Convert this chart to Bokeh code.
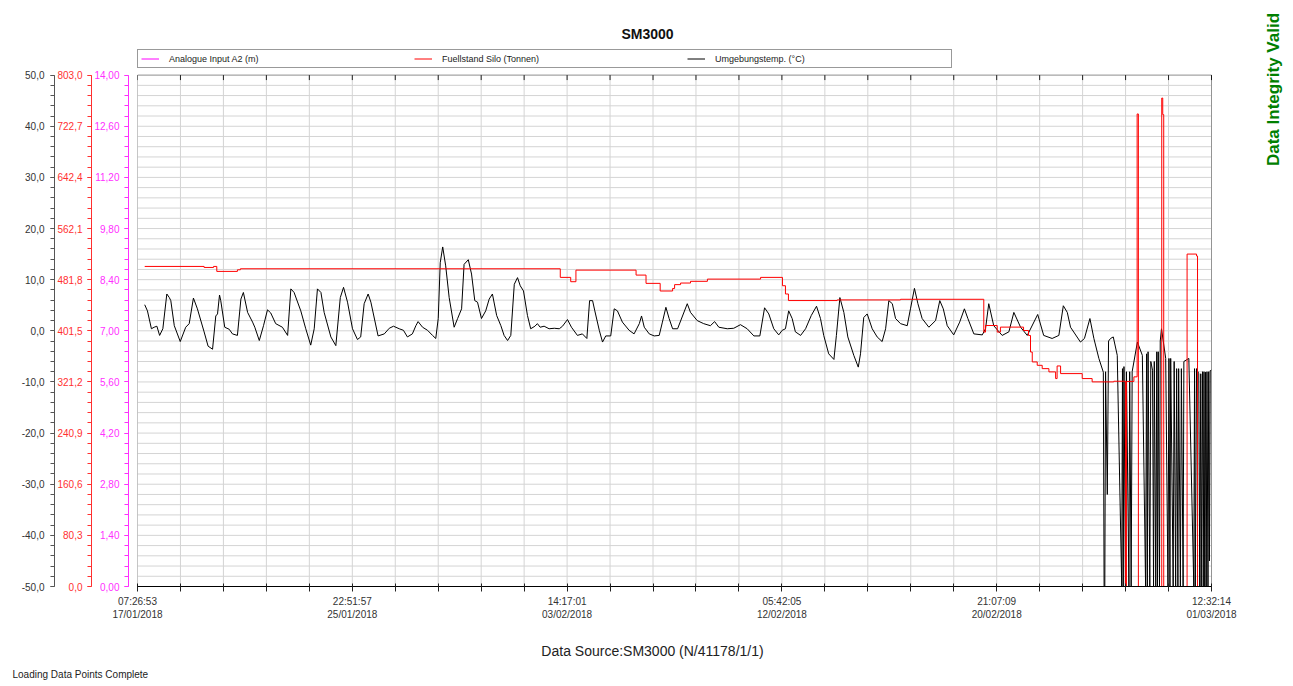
import math
from datetime import datetime, timedelta
from bokeh.plotting import figure
from bokeh.models import (Range1d, LinearAxis, FixedTicker, Legend, LegendItem, Title,
                          Label, BoxAnnotation)
from bokeh.embed import file_html
from bokeh.resources import INLINE

# ---------------- data ----------------
start_time = datetime(2018, 1, 17, 7, 26, 53)
end_time = datetime(2018, 3, 1, 12, 32, 14)

x_tick_labels = ["07:26:53\n17/01/2018", "22:51:57\n25/01/2018", "14:17:01\n03/02/2018",
                 "05:42:05\n12/02/2018", "21:07:09\n20/02/2018", "12:32:14\n01/03/2018"]

# Umgebungstemp. (°C) - days since start / value
temp_day = [
    0.29, 0.40, 0.56, 0.67, 0.78, 0.89, 1.02, 1.18, 1.28, 1.34,
    1.48, 1.72, 1.94, 2.08, 2.25, 2.41, 2.68, 2.84, 3.02, 3.15,
    3.22, 3.30, 3.35, 3.51, 3.69, 3.82, 4.02, 4.16, 4.26, 4.43,
    4.63, 4.72, 4.90, 5.07, 5.23, 5.36, 5.56, 5.83, 6.04, 6.17,
    6.30, 6.57, 6.77, 6.97, 7.11, 7.24, 7.38, 7.51, 7.78, 7.98,
    8.16, 8.29, 8.45, 8.65, 8.85, 8.98, 9.12, 9.28, 9.39, 9.68,
    9.93, 10.13, 10.30, 10.53, 10.70, 10.86, 11.06, 11.20, 11.29, 11.47,
    11.67, 11.87, 12.00, 12.10, 12.18, 12.28, 12.40, 12.54, 12.74, 12.88,
    13.04, 13.14, 13.31, 13.44, 13.57, 13.68, 13.84, 14.01, 14.15, 14.28,
    14.45, 14.62, 14.75, 14.89, 15.02, 15.16, 15.29, 15.40, 15.53, 15.69,
    15.82, 15.99, 16.09, 16.20, 16.36, 16.56, 16.77, 16.97, 17.10, 17.30,
    17.46, 17.70, 17.90, 18.08, 18.19, 18.31, 18.40, 18.58, 18.71, 18.84,
    19.04, 19.18, 19.31, 19.51, 19.78, 19.98, 20.19, 20.28, 20.39, 20.59,
    20.79, 20.99, 21.12, 21.26, 21.39, 21.53, 21.73, 22.12, 22.25, 22.52,
    22.78, 23.05, 23.22, 23.39, 23.73, 23.99, 24.26, 24.53, 24.80, 25.04,
    25.23, 25.40, 25.60, 25.80, 25.94, 26.07, 26.20, 26.34, 26.47, 26.68,
    26.88, 27.11, 27.32, 27.48, 27.61, 27.81, 28.02, 28.12, 28.26, 28.42,
    28.58, 28.82, 29.00, 29.09, 29.22, 29.36, 29.56, 29.76, 29.96, 30.10,
    30.23, 30.37, 30.50, 30.70, 30.97, 31.10, 31.26, 31.40, 31.57, 31.84,
    32.11, 32.28, 32.42, 32.58, 32.84, 33.08, 33.27, 33.41, 33.65, 33.99,
    34.12, 34.25, 34.45, 34.79, 35.06, 35.26, 35.53, 35.80, 36.22, 36.46,
    36.80, 37.07, 37.25, 37.41, 37.54, 37.94, 38.10, 38.32, 38.48, 38.68,
    38.86, 38.89, 38.92, 38.95, 39.02, 39.07, 39.15, 39.26, 39.42, 39.60,
    39.63, 39.66, 39.69, 39.75, 39.79, 39.89, 39.92, 39.98, 40.02, 40.23,
    40.43, 40.56, 40.60, 40.63, 40.66, 40.73, 40.77, 40.84, 40.88, 40.91,
    40.97, 41.01, 41.04, 41.07, 41.12, 41.15, 41.20, 41.37, 41.46, 41.50,
    41.54, 41.57, 41.67, 41.71, 41.77, 41.81, 41.86, 41.89, 41.96, 42.00,
    42.07, 42.10, 42.30, 42.50, 42.53, 42.56, 42.61, 42.70, 42.74, 42.78,
    42.80, 42.85, 42.88, 42.91, 42.94, 42.97, 43.00, 43.03, 43.07, 43.10,
    43.13, 43.16, 43.20]
temp_c = [
    5.1, 3.9, 0.4, 0.7, 0.9, -0.9, 0.4, 7.2, 6.5, 5.9,
    1.0, -2.1, 0.7, 1.4, 6.4, 4.3, -0.2, -3.0, -3.6, 2.9,
    3.3, 7.0, 5.9, 0.7, 0.3, -0.6, -0.9, 6.2, 7.5, 3.6,
    1.7, 0.7, -1.9, 1.0, 4.1, 3.5, 1.4, 0.7, -0.9, 8.2,
    7.5, 3.9, 0.4, -2.8, 0.4, 8.2, 7.5, 3.6, -1.2, -2.9,
    6.5, 8.5, 5.6, 0.4, -1.7, -1.2, 5.3, 7.2, 5.6, -1.0,
    -0.6, 0.5, 0.9, 0.4, 0.1, -1.2, -0.6, 1.0, 1.8, 0.7,
    0.1, -0.9, -1.5, 2.4, 13.3, 16.4, 12.7, 6.5, 0.7, 2.4,
    4.3, 13.0, 13.9, 11.1, 5.9, 5.6, 2.4, 3.9, 6.2, 7.2,
    3.0, 1.0, -0.9, -1.9, -0.9, 9.1, 10.4, 8.8, 7.8, 3.0,
    0.4, 0.9, 1.4, 0.7, 0.9, 0.4, 0.5, 0.4, 0.9, 2.2,
    0.7, -0.9, -0.6, -1.5, 5.9, 5.9, 3.9, 0.1, -2.2, -1.0,
    -1.0, 4.3, 3.9, 1.7, 0.1, -0.6, 1.4, 2.9, 0.7, -0.6,
    -1.0, -0.9, 1.7, 4.6, 2.4, 0.4, 0.4, 5.3, 3.6, 2.0,
    1.4, 1.0, 1.8, 0.7, 0.4, 0.5, 1.2, 0.4, -1.0, -1.0,
    4.5, 3.3, 0.4, -0.8, 0.1, 0.4, 3.9, 2.4, -0.2, -0.9,
    0.4, 3.0, 4.8, 2.4, -0.9, -4.5, -5.6, -0.9, 6.5, 3.6,
    -1.2, -4.8, -7.1, -4.5, 2.6, 3.3, 0.4, -1.2, -2.1, 0.4,
    5.9, 5.3, 2.4, 1.4, 1.0, 4.3, 8.3, 5.3, 2.4, 0.7,
    2.0, 5.9, 4.3, 1.0, -0.8, 1.7, 4.3, 2.4, -0.6, -0.8,
    0.4, 5.3, 1.0, -0.9, -0.2, 3.6, 0.7, -0.9, 3.2, -0.9,
    -1.5, -0.9, 4.9, 3.6, 0.7, -2.2, -1.5, 2.4, -1.5, -5.4,
    -8.1, -50.0, -50.0, -8.0, -32.0, -2.0, -1.5, -1.2, -4.8, -50.0,
    -7.4, -50.0, -7.0, -50.0, -8.0, -50.0, -8.0, -50.0, -8.0, -2.2,
    -4.8, -50.0, -4.5, -50.0, -4.1, -50.0, -6.0, -7.7, -50.0, -6.0,
    -50.0, -4.1, -50.0, -4.1, -50.0, -2.0, 0.4, -5.4, -50.0, -5.4,
    -50.0, -5.4, -50.0, -6.0, -50.0, -7.4, -50.0, -7.4, -50.0, -7.4,
    -50.0, -6.0, -5.4, -50.0, -7.4, -50.0, -7.4, -8.4, -50.0, -8.4,
    -50.0, -8.0, -50.0, -8.0, -50.0, -8.1, -50.0, -8.0, -50.0, -8.0,
    -45.0, -7.8, -7.7]

# Fuellstand Silo (Tonnen) - days since start / value (step)
silo_day = [0.29, 2.68, 3.06, 3.19, 4.02, 4.14, 17.01, 17.43, 17.64, 20.06,
            20.46, 21.03, 21.53, 21.61, 21.85, 22.25, 22.93, 25.07, 25.95, 26.07,
            26.19, 28.15, 30.70, 34.05, 34.12, 34.59, 34.72, 35.65, 35.85, 35.93,
            36.00, 36.20, 36.40, 36.67, 36.94, 37.00, 37.14, 38.01, 38.41, 39.28,
            39.75, 39.79, 40.09, 40.22, 40.27, 41.21, 41.25, 41.29, 42.23, 42.61,
            42.65, 43.21]
silo_t = [502.6, 501.0, 502.6, 494.8, 497.3, 498.9, 485.4, 478.6, 496.8, 489.0,
          476.0, 464.0, 468.0, 474.0, 476.5, 479.2, 482.7, 485.4, 472.3, 459.3,
          449.0, 450.0, 451.0, 399.5, 409.8, 399.5, 407.3, 402.0, 394.2, 368.2,
          352.6, 347.3, 342.1, 337.0, 326.5, 346.3, 334.3, 326.5, 321.3, 322.3,
          0.0, 322.0, 329.2, 742.0, 0.0, 767.0, 741.0, 0.0, 522.0, 519.0,
          0.0, 0.0]

# Analogue Input A2 (m) - no readable values in the chart
analog_day = [0.0, 43.21]
analog_m = [float("nan"), float("nan")]

temp_ticks = [-50, -40, -30, -20, -10, 0, 10, 20, 30, 40, 50]
temp_labels = ["-50,0", "-40,0", "-30,0", "-20,0", "-10,0", "0,0", "10,0", "20,0", "30,0", "40,0", "50,0"]
silo_ticks = [0.0, 80.3, 160.6, 240.9, 321.2, 401.5, 481.8, 562.1, 642.4, 722.7, 803.0]
silo_labels = ["0,0", "80,3", "160,6", "240,9", "321,2", "401,5", "481,8", "562,1", "642,4", "722,7", "803,0"]
analog_ticks = [0.0, 1.4, 2.8, 4.2, 5.6, 7.0, 8.4, 9.8, 11.2, 12.6, 14.0]
analog_labels = ["0,00", "1,40", "2,80", "4,20", "5,60", "7,00", "8,40", "9,80", "11,20", "12,60", "14,00"]

title_text = "SM3000"
source_text = "Data Source:SM3000 (N/41178/1/1)"
integrity_text = "Data Integrity Valid"
status_text = "Loading Data Points Complete"

# ---------------- layout constants (pixels) ----------------
W, H = 1293, 686
BOX_L, BOX_R, BOX_T, BOX_B = 137, 1211, 75, 589   # plot box in page pixels
FRAME_H = BOX_B            # frame spans from page top to plot-box bottom
FRAME_W = W - BOX_L        # frame spans to the right page edge

EPOCH = datetime(1970, 1, 1)


def to_ms(dt):
    return (dt - EPOCH).total_seconds() * 1000.0


x0 = to_ms(start_time)
x1 = to_ms(end_time)
span = x1 - x0
x_end = x0 + span * FRAME_W / (BOX_R - BOX_L)
ext = FRAME_H / (BOX_B - BOX_T)
temp_top = -50 + 100 * ext
px_per_deg = (BOX_B - BOX_T) / 100.0


def day_ms(d):
    return to_ms(start_time + timedelta(days=d))


FONT = "Liberation Sans"
RED = "#ff3030"
MAG = "#ff30ff"
GRID = "#d4d4d4"

p = figure(width=W, height=H, output_backend="svg", toolbar_location=None,
           x_range=Range1d(x0, x_end), y_range=Range1d(-50, temp_top),
           x_axis_location=None, y_axis_location=None,
           min_border_left=BOX_L, min_border_right=0, min_border_top=0, min_border_bottom=H - BOX_B)
p.extra_y_ranges = {"silo": Range1d(0, 803 * ext), "analog": Range1d(0, 14 * ext)}
p.outline_line_color = None
p.background_fill_color = "white"
p.border_fill_color = "white"
for g in p.grid:
    g.visible = False

# grid lines, limited to the plot box
x_ticks = [x0 + span * k / 25.0 for k in range(26)]
y_grid = [-50 + 2 * k for k in range(51)]
p.segment(x0=x_ticks, y0=[-50] * len(x_ticks), x1=x_ticks, y1=[50] * len(x_ticks),
          line_color=GRID, line_width=1, level="underlay")
p.segment(x0=[x0] * len(y_grid), y0=y_grid, x1=[x1] * len(y_grid), y1=y_grid,
          line_color=GRID, line_width=1, level="underlay")
# inward ticks along the top edge of the plot box
tick_len = 5 / px_per_deg
p.segment(x0=x_ticks, y0=[50] * len(x_ticks), x1=x_ticks, y1=[50 - tick_len] * len(x_ticks),
          line_color="#222222", line_width=1)

# ---- below: time axis, data source text, status text
x_over = {}
for k, t in enumerate(x_ticks):
    x_over[t] = x_tick_labels[k // 5] if k % 5 == 0 else ""
xaxis = LinearAxis(ticker=FixedTicker(ticks=x_ticks, minor_ticks=[]), major_label_overrides=x_over,
                   bounds=(x0, x1),
                   major_tick_in=3, major_tick_out=5, minor_tick_in=0, minor_tick_out=0,
                   major_label_standoff=4, major_label_text_font_size="10px",
                   major_label_text_font=FONT, major_label_text_color="#333333",
                   axis_line_color="black", major_tick_line_color="#222222")
p.add_layout(xaxis, "below")

src_x = x0 + span * (652 - BOX_L) / (BOX_R - BOX_L)
src_axis = LinearAxis(ticker=FixedTicker(ticks=[src_x], minor_ticks=[]),
                      major_label_overrides={src_x: source_text},
                      axis_line_color=None, major_tick_line_color=None,
                      major_tick_in=0, major_tick_out=0, minor_tick_in=0, minor_tick_out=0,
                      major_label_standoff=20, major_label_text_font_size="14px",
                      major_label_text_font=FONT, major_label_text_color="#222222")
p.add_layout(src_axis, "below")

p.add_layout(Title(text=status_text, align="left", offset=-125, standoff=12,
                   vertical_align="middle", text_font_size="10px", text_font=FONT,
                   text_font_style="normal", text_color="#222222"), "below")

# ---- left axes
gap = LinearAxis(ticker=FixedTicker(ticks=[0], minor_ticks=[]), major_label_overrides={0: ""},
                 axis_line_color=None, major_tick_line_color=None,
                 major_tick_in=0, major_tick_out=9, minor_tick_in=0, minor_tick_out=0,
                 major_label_standoff=0)
p.add_layout(gap, "left")


def make_yaxis(range_name, ticks, labels, lo, hi, color, label_color, standoff):
    minors = [lo + (hi - lo) * k / 50.0 for k in range(51)]
    return LinearAxis(y_range_name=range_name, bounds=(lo, hi),
                      ticker=FixedTicker(ticks=ticks, minor_ticks=minors),
                      major_label_overrides=dict(zip(ticks, labels)),
                      major_tick_in=0, major_tick_out=4, minor_tick_in=0, minor_tick_out=4,
                      major_label_standoff=standoff, axis_line_color=color,
                      major_tick_line_color=color, minor_tick_line_color=color,
                      major_label_text_color=label_color, major_label_text_font_size="10px",
                      major_label_text_font=FONT)


p.add_layout(make_yaxis("analog", analog_ticks, analog_labels, 0, 14, MAG, MAG, 5), "left")
p.add_layout(make_yaxis("silo", silo_ticks, silo_labels, 0, 803, RED, RED, 5), "left")
p.add_layout(make_yaxis("default", temp_ticks, temp_labels, -50, 50, "#555555", "#333333", 6), "left")

# series
r_an = p.line([day_ms(d) for d in analog_day], analog_m, line_color="#ff00ff", line_width=1,
              y_range_name="analog")
r_temp = p.line([day_ms(d) for d in temp_day], temp_c, line_color="black", line_width=1)
r_silo = p.step([day_ms(d) for d in silo_day], silo_t, mode="after", line_color="#ff0000",
                line_width=1, y_range_name="silo")

# plot box border
p.add_layout(BoxAnnotation(left=x0, right=x1, bottom=-50, top=50, fill_alpha=0,
                           line_color="black", line_width=1))

legend = Legend(items=[LegendItem(label="Analogue Input A2 (m)", renderers=[r_an]),
                       LegendItem(label="Fuellstand Silo (Tonnen)", renderers=[r_silo]),
                       LegendItem(label="Umgebungstemp. (°C)", renderers=[r_temp])],
                orientation="horizontal", location=(0, BOX_B - 71), margin=0, padding=3, spacing=12,
                glyph_width=18, glyph_height=11, label_height=11, label_width=233, label_standoff=10,
                label_text_font_size="9px", label_text_font=FONT, label_text_color="#222222",
                label_text_baseline="middle",
                border_line_color="#333333", border_line_width=1,
                background_fill_color="white", background_fill_alpha=1.0)
p.add_layout(legend)

# header texts (inside the frame, positioned in screen pixels from the frame's bottom-left)
p.add_layout(Label(x=647 - BOX_L, y=BOX_B - 36, x_units="screen", y_units="screen", text=title_text,
                   text_align="center", text_baseline="middle", text_font_size="14px",
                   text_font_style="bold", text_font=FONT, text_color="#111111"))
p.add_layout(Label(x=1273 - BOX_L, y=BOX_B - 92, x_units="screen", y_units="screen",
                   text=integrity_text, angle=math.pi / 2, text_align="center",
                   text_baseline="middle", text_font_size="17px", text_font_style="bold",
                   text_font=FONT, text_color="#008000"))

open("out.html", "w").write(file_html(p, INLINE))
